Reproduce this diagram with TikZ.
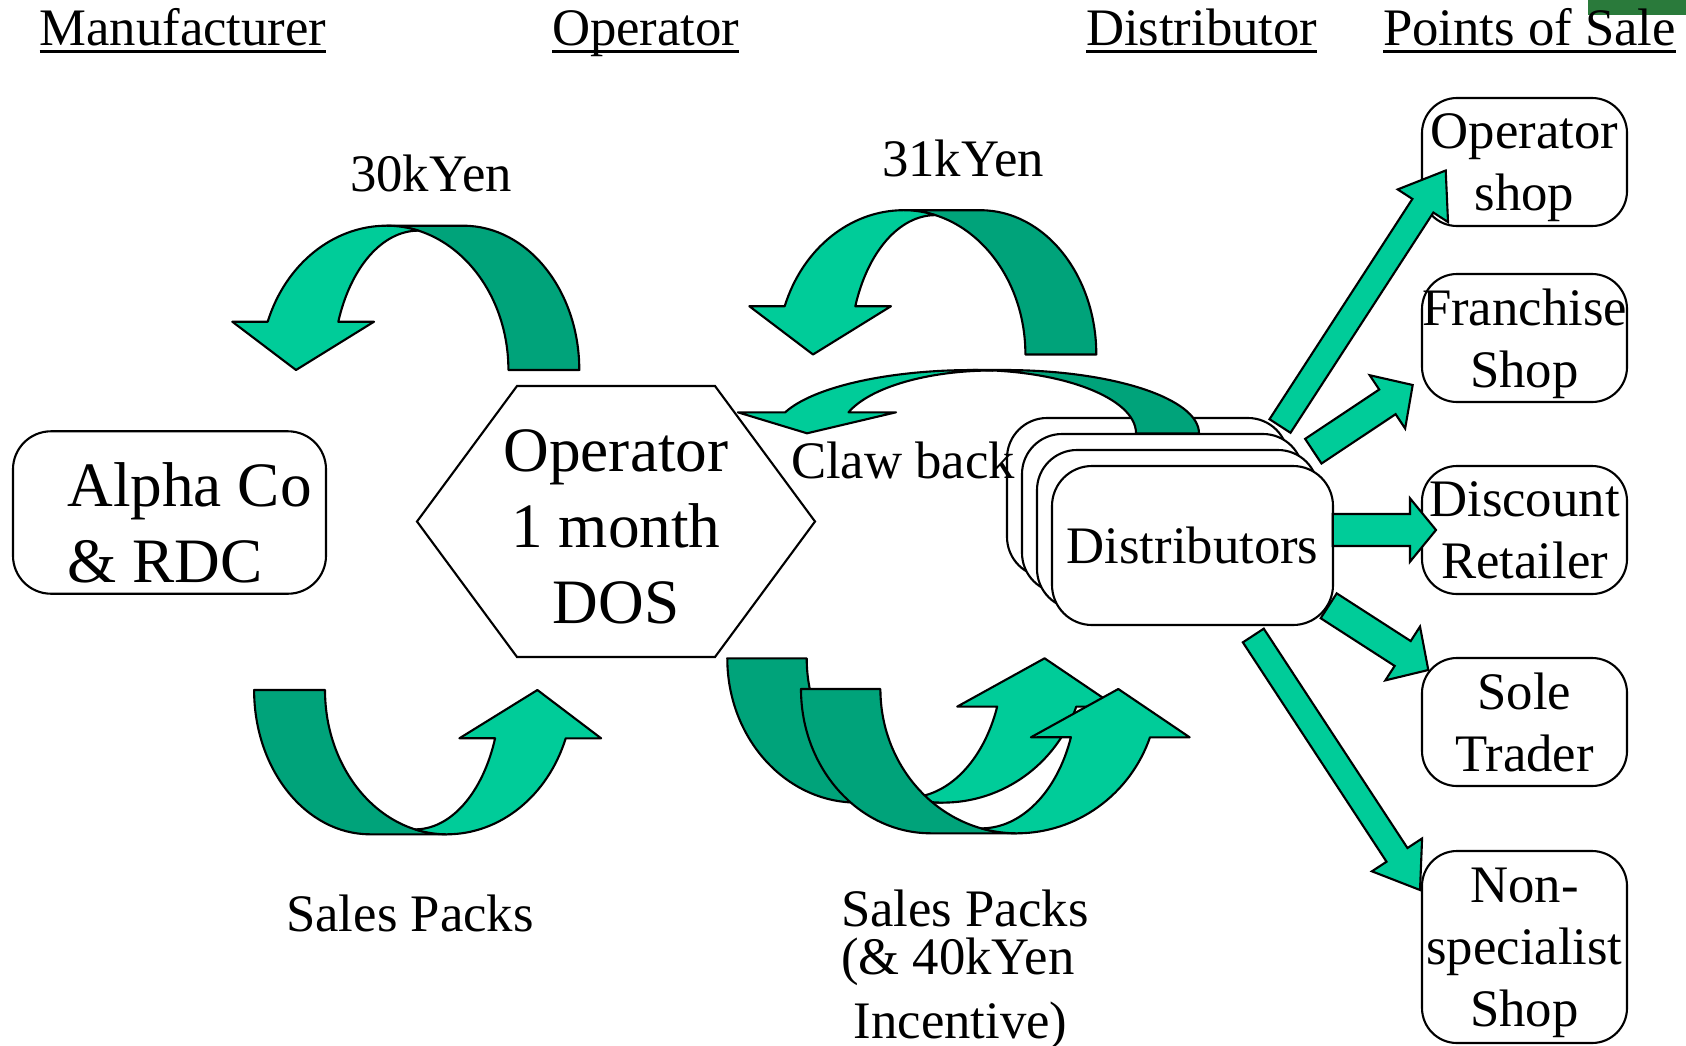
\documentclass[tikz,border=0pt]{standalone}
\usepackage{fontspec}
\setmainfont{Liberation Serif}
\usetikzlibrary{calc,positioning}
\definecolor{sea-green}{HTML}{00CC99}
\definecolor{deep-green}{HTML}{00A37A}
\definecolor{patch-green}{HTML}{2A7A3B}
\newcommand\bigfont{\fontsize{18}{21.6}\selectfont}
\newcommand\midfont{\fontsize{15}{17.6}\selectfont}
\newsavebox\hdbox
\newcommand\hdline[1]{\sbox\hdbox{#1}\usebox\hdbox\llap{\rule[-2.3pt]{\wd\hdbox}{0.8pt}}}
% block arrow: start, tip, half shaft, half head, head length
\newcommand\blockarrow[5]{%
    \coordinate (ah) at ($(#2)!#5!(#1)$);
    \path[pointer] ($(#1)!#3!90:(#2)$) -- ($(ah)!#3!90:(#2)$) -- ($(ah)!#4!90:(#2)$) -- (#2)
        -- ($(ah)!#4!-90:(#2)$) -- ($(ah)!#3!-90:(#2)$) -- ($(#1)!#3!-90:(#2)$) -- cycle;
}
\tikzset{
    every picture/.style={line width=0.6pt},
    heading/.style={anchor=base west, inner sep=0pt, font=\midfont},
    tag/.style={anchor=base, inner sep=0pt, font=\midfont},
    box/.style={draw, fill=white, rounded corners=0.35cm, align=center, font=\midfont,
        minimum width=2.05cm, minimum height=1.28cm, inner sep=0pt, text depth=0pt},
    distbox/.style={draw, fill=white, rounded corners=0.4cm, font=\midfont,
        minimum width=2.81cm, minimum height=1.59cm, inner sep=0pt},
    lightband/.style={draw, fill=sea-green, line join=round},
    darkband/.style={draw, fill=deep-green, line join=round},
    pointer/.style={draw, fill=sea-green},
    bentarrow/.pic={
        \path[darkband] (1.626,0) arc[start angle=0, end angle=90, x radius=1.16, y radius=1.443]
            -- (-0.30,1.443) arc[start angle=90, end angle=0, x radius=1.217, y radius=1.443] -- cycle;
        \path[lightband] (-1.49,0.483) arc[start angle=160.45, end angle=90, x radius=1.263, y radius=1.443]
            arc[start angle=90, end angle=74.95, x radius=1.217, y radius=1.443]
            arc[start angle=90, end angle=159.73, x radius=0.853, y radius=1.394]
            -- (-0.427,0.483) -- (-1.207,0) -- (-1.844,0.483) -- cycle;
    }
}

\begin{document}
\begin{tikzpicture}
    \useasboundingbox (0,0) rectangle (16.86,-10.45);
    \fill[patch-green] (15.88,0) rectangle (16.86,-0.15);

    % column headings
    \node[heading] (hmaker) at (0.385,-0.45) {\hdline{Manufacturer}};
    \node[heading] (hoperator) at (5.51,-0.45) {\hdline{Operator}};
    \node[heading] (hdistributor) at (10.85,-0.45) {\hdline{Distributor}};
    \node[heading] (hsale) at (13.82,-0.45) {\hdline{Points of Sale}};

    \node[draw, rounded corners=0.38cm, align=left, font=\bigfont, minimum width=3.13cm, minimum height=1.59cm,
        text height=1.39cm, text depth=0pt]
        (alpha) at (1.695,-5.125) {\hspace*{0.4cm}Alpha Co\\\hspace*{0.4cm}\& RDC};

    \coordinate (hexc) at (6.16,-5.215);
    \node[align=center, font=\bigfont, inner sep=0pt] (dos) at (6.16,-5.27) {Operator\\1 month\\DOS};
    \draw (hexc) ++(-1.99,0) -- ++(1.00,1.355) -- ++(1.98,0) -- ++(1.00,-1.355)
        -- ++(-1.00,-1.355) -- ++(-1.98,0) -- cycle;

    \pic at (4.167,-3.70) {bentarrow};
    \pic at (9.337,-3.545) {bentarrow};
    \pic[rotate=180] at (4.167,-6.90) {bentarrow};
    \pic[rotate=180, xscale=1.12] at (9.094,-6.583) {bentarrow};
    \pic[rotate=180, xscale=1.12] at (9.831,-6.89) {bentarrow};

    \foreach \k in {3,2,1}
        \node[distbox] (dist\k) at ({11.925-0.15*\k},{-5.455+0.16*\k}) {};
    \node[distbox] (dist) at (11.925,-5.455) {Distributors};

    % claw back
    \path[darkband] (11.99,-4.333) arc[start angle=0, end angle=90, x radius=1.95, y radius=0.633]
        -- (9.729,-3.70) arc[start angle=90, end angle=0, x radius=1.631, y radius=0.633] -- cycle;
    \path[lightband] (7.852,-4.123) arc[start angle=160.8, end angle=90, x radius=1.988, y radius=0.63]
        arc[start angle=90, end angle=83, x radius=1.631, y radius=0.633]
        arc[start angle=90, end angle=160.7, x radius=1.529, y radius=0.625]
        -- (8.96,-4.123) -- (8.07,-4.333) -- (7.378,-4.123) -- cycle;

    \node[box] (opshop) at (15.245,-1.62) {Operator\\shop};
    \node[box] (franchise) at (15.245,-3.38) {Franchise\\Shop};
    \node[box] (discount) at (15.245,-5.30) {Discount\\Retailer};
    \node[box] (sole) at (15.245,-7.22) {Sole\\Trader};
    \node[box, minimum height=1.92cm] (nonspec) at (15.245,-9.47) {Non-\\specialist\\Shop};

    \coordinate (d1) at (12.80,-4.26);   \coordinate (t1) at (14.457,-1.705);
    \coordinate (d2) at (13.133,-4.512); \coordinate (t2) at (14.127,-3.85);
    \coordinate (d3) at (13.327,-5.30);  \coordinate (t3) at (14.36,-5.30);
    \coordinate (d4) at (13.287,-6.058); \coordinate (t4) at (14.283,-6.70);
    \coordinate (d5) at (12.533,-6.355); \coordinate (t5) at (14.20,-8.90);
    \blockarrow{d1}{t1}{0.125cm}{0.30cm}{0.42cm}
    \blockarrow{d2}{t2}{0.148cm}{0.32cm}{0.304cm}
    \blockarrow{d3}{t3}{0.16cm}{0.317cm}{0.26cm}
    \blockarrow{d4}{t4}{0.148cm}{0.32cm}{0.305cm}
    \blockarrow{d5}{t5}{0.125cm}{0.30cm}{0.42cm}

    \node[tag] (pay1) at (4.31,-1.915) {30kYen};
    \node[tag] (pay2) at (9.63,-1.763) {31kYen};
    \node[tag] (claw) at (9.03,-4.785) {Claw back};
    \node[tag] (packs1) at (4.10,-9.31) {Sales Packs};
    \node[tag, anchor=base west, align=left] (packs2) at (8.40,-10.387)
        {Sales Packs\\[-4.2pt](\& 40kYen\\[0.8pt]\hspace*{3.6pt}Incentive)};
\end{tikzpicture}
\end{document}
